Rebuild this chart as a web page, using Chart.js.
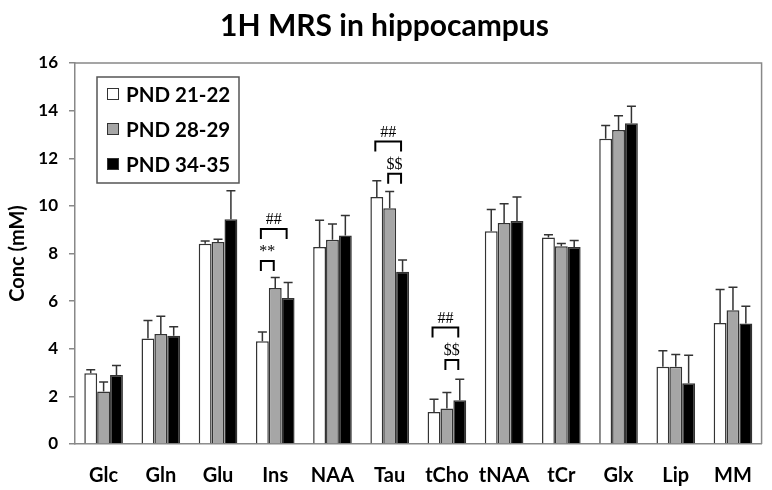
<!DOCTYPE html>
<html><head><meta charset="utf-8">
<script src="https://cdn.jsdelivr.net/npm/chart.js@4.4.1/dist/chart.umd.min.js"></script>
<style>html,body{margin:0;padding:0;background:#fff}#wrap{width:772px;height:490px;position:relative}</style>
</head><body><div id="wrap"><canvas id="c"></canvas></div>
<script>
const categories = ['Glc','Gln','Glu','Ins','NAA','Tau','tCho','tNAA','tCr','Glx','Lip','MM'];
const seriesNames = ['PND 21-22','PND 28-29','PND 34-35'];
const pnd2122    = [2.97,4.43,8.41,4.31,8.27,10.37,1.34,8.93,8.67,12.82,3.24,5.08];
const pnd2122Err = [0.15,0.76,0.11,0.39,1.13,0.69,0.54,0.92,0.12,0.56,0.68,1.41];
const pnd2829    = [2.20,4.62,8.48,6.55,8.58,9.90,1.49,9.28,8.30,13.19,3.24,5.62];
const pnd2829Err = [0.40,0.74,0.12,0.44,0.66,0.70,0.67,0.81,0.12,0.60,0.52,0.96];
const pnd3435    = [2.90,4.55,9.44,6.13,8.76,7.23,1.84,9.36,8.27,13.47,2.55,5.06];
const pnd3435Err = [0.40,0.37,1.20,0.65,0.84,0.50,0.88,1.01,0.28,0.71,1.18,0.72];
const yTicks = [0,2,4,6,8,10,12,14,16];
// significance brackets: category, first series index, second series index, bracket level (mM), label
const sigCategory = ['Ins','Ins','Tau','Tau','tCho','tCho'];
const sigFrom     = [0,0,0,1,0,1];
const sigTo       = [1,2,2,2,2,2];
const sigLevel    = [7.68,9.03,12.70,11.35,4.89,3.53];
const sigLabel    = ['**','##','##','$$','##','$$'];

const fills = ['#ffffff','#a6a6a6','#000000'];
const seriesValues = [pnd2122, pnd2829, pnd3435];
const seriesErrors = [pnd2122Err, pnd2829Err, pnd3435Err];

const errorBars = {
  id:'errorBars',
  afterDatasetsDraw(chart){
    const ctx = chart.ctx, y = chart.scales.y;
    ctx.save();
    ctx.strokeStyle = '#333'; ctx.lineWidth = 1.5;
    chart.data.datasets.forEach((ds, di) => {
      const meta = chart.getDatasetMeta(di);
      meta.data.forEach((el, i) => {
        const v = ds.data[i], e = ds.errors[i];
        const top = y.getPixelForValue(v + e);
        ctx.beginPath();
        ctx.moveTo(el.x, el.y); ctx.lineTo(el.x, top);
        ctx.moveTo(el.x - 4.5, top); ctx.lineTo(el.x + 4.5, top);
        ctx.stroke();
      });
    });
    // significance brackets
    ctx.strokeStyle = '#000'; ctx.lineWidth = 2; ctx.fillStyle = '#000';
    ctx.font = '16px "Liberation Serif", serif';
    ctx.textAlign = 'center'; ctx.textBaseline = 'alphabetic';
    sigCategory.forEach((cat, k) => {
      const idx = categories.indexOf(cat);
      const x1 = chart.getDatasetMeta(sigFrom[k]).data[idx].x - 1.5;
      const x2 = chart.getDatasetMeta(sigTo[k]).data[idx].x - 1.5;
      const yy = y.getPixelForValue(sigLevel[k]);
      ctx.beginPath();
      ctx.moveTo(x1, yy + 10); ctx.lineTo(x1, yy); ctx.lineTo(x2, yy); ctx.lineTo(x2, yy + 10);
      ctx.stroke();
      ctx.fillText(sigLabel[k], (x1 + x2) / 2, yy - 5);
    });
    ctx.restore();
  }
};

const frameAndLegend = {
  id:'frameAndLegend',
  afterDraw(chart){
    const ctx = chart.ctx, a = chart.chartArea;
    ctx.save();
    ctx.strokeStyle = '#888'; ctx.lineWidth = 1.5;
    ctx.beginPath();
    ctx.moveTo(a.left, a.top); ctx.lineTo(a.right, a.top); ctx.lineTo(a.right, a.bottom);
    ctx.stroke();
    // legend box
    const lx = 97, ly = 77, lw = 142, lh = 106;
    ctx.fillStyle = '#fff'; ctx.fillRect(lx, ly, lw, lh);
    ctx.strokeStyle = '#555'; ctx.lineWidth = 1.5; ctx.strokeRect(lx, ly, lw, lh);
    ctx.font = 'bold 20.5px Lato, sans-serif';
    ctx.textBaseline = 'middle'; ctx.textAlign = 'left';
    chart.data.datasets.forEach((ds, i) => {
      const cy = 94 + i * 35;
      ctx.fillStyle = ds.backgroundColor;
      ctx.fillRect(107, cy - 6, 12, 12);
      ctx.strokeStyle = '#333'; ctx.lineWidth = 1;
      ctx.strokeRect(107.5, cy - 5.5, 11, 11);
      ctx.fillStyle = '#000';
      ctx.fillText(ds.label, 126, cy + 1);
    });
    ctx.restore();
  }
};

new Chart(document.getElementById('c'), {
  type:'bar',
  data:{
    labels:categories,
    datasets: seriesNames.map((n, i) => ({
      label:n, data:seriesValues[i], errors:seriesErrors[i],
      backgroundColor:fills[i], borderColor:'#333', borderWidth:1.5,
      categoryPercentage:0.675, barPercentage:1.0
    }))
  },
  options:{
    responsive:true, maintainAspectRatio:false, animation:false,
    layout:{padding:{left:0, right:3, top:0, bottom:0}},
    plugins:{
      legend:{display:false}, tooltip:{enabled:false},
      title:{display:true, text:'1H MRS in hippocampus', color:'#000',
        font:{family:'Lato', weight:'bold', size:30}, padding:{top:8, bottom:19}}
    },
    scales:{
      x:{
        grid:{display:true, drawOnChartArea:false, drawTicks:false},
        border:{color:'#888', width:1.5},
        ticks:{color:'#000', font:{family:'Lato', weight:'bold', size:20}, padding:20},
        afterFit:s => { s.height = 46; }
      },
      y:{
        min:0, max:16,
        afterBuildTicks:s => { s.ticks = yTicks.map(v => ({value:v})); },
        grid:{display:true, drawOnChartArea:false, drawTicks:true, tickLength:6, color:'#888', lineWidth:1.5},
        border:{color:'#888', width:1.5},
        ticks:{color:'#000', font:{family:'Lato', weight:'bold', size:17}, padding:11},
        title:{display:true, text:'Conc (mM)', color:'#000', font:{family:'Lato', weight:'bold', size:20}, padding:{top:6, bottom:4}},
        afterFit:s => { s.width = 75; }
      }
    }
  },
  plugins:[errorBars, frameAndLegend]
});
</script></body></html>
